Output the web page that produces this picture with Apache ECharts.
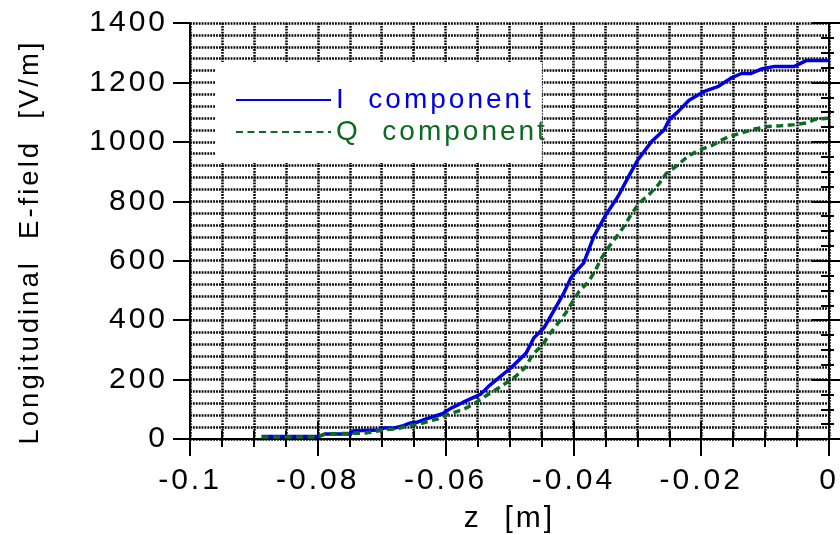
<!DOCTYPE html>
<html>
<head>
<meta charset="utf-8">
<script src="https://cdn.jsdelivr.net/npm/echarts@6/dist/echarts.min.js"></script>
<style>
  html, body { margin: 0; padding: 0; background: #fff; }
  #chart { width: 840px; height: 535px; }
</style>
</head>
<body>
<div id="chart"></div>
<script>
// I component
const zI = [-0.0888, -0.0800, -0.0788, -0.0749, -0.0744, -0.0702, -0.0697, -0.0680, -0.0666, -0.0655,
  -0.0645, -0.0634, -0.0621, -0.0605, -0.0592, -0.0573, -0.0545, -0.0533, -0.0514, -0.0498,
  -0.0474, -0.0462, -0.0446, -0.0431, -0.0415, -0.0404, -0.0391, -0.0384, -0.0368, -0.0349,
  -0.0330, -0.0315, -0.0299, -0.0278, -0.0258, -0.0250, -0.0237, -0.0219, -0.0195, -0.0173,
  -0.0153, -0.0137, -0.0122, -0.0106, -0.0085, -0.0054, -0.0035, 0]
const vI = [8, 8, 17, 17, 28, 30, 37, 37, 45, 54,
  56, 65, 74, 85, 103, 123, 151, 177, 211, 239,
  289, 340, 374, 430, 491, 542, 576, 592, 682, 755,
  817, 878, 940, 1000, 1041, 1075, 1100, 1140, 1170, 1187,
  1215, 1230, 1230, 1245, 1254, 1254, 1274, 1274]

// Q component
const zQ = [-0.0888, -0.0800, -0.0788, -0.0725, -0.0697, -0.0675, -0.0660, -0.0645, -0.0628, -0.0613,
  -0.0597, -0.0573, -0.0558, -0.0542, -0.0526, -0.0509, -0.0490, -0.0474, -0.0464, -0.0448,
  -0.0438, -0.0424, -0.0412, -0.0401, -0.0391, -0.0376, -0.0365, -0.0357, -0.0344, -0.0330,
  -0.0318, -0.0310, -0.0297, -0.0282, -0.0267, -0.0255, -0.0239, -0.0221, -0.0205, -0.0184,
  -0.0169, -0.0156, -0.0137, -0.0117, -0.0095, -0.0075, -0.0054, -0.0035, -0.0023, 0]
const vQ = [7, 7, 17, 20, 31, 34, 45, 48, 59, 67,
  82, 99, 115, 138, 160, 183, 211, 244, 284, 317,
  351, 390, 424, 463, 497, 530, 570, 606, 648, 688,
  724, 755, 794, 822, 856, 893, 918, 951, 971, 987,
  1005, 1018, 1030, 1043, 1052, 1054, 1058, 1064, 1075, 1080]

const seriesNames = ['I  component', 'Q  component']
const xRange = [-0.1, 0, 0.02]
const yRange = [0, 1400, 200]

const FONT = '"Liberation Sans", Arial, sans-serif'
const BLUE = '#0000e6'
const GREEN = '#0b6b20'
const dotted = { color: '#000', width: 2.5, type: [1.8, 1.1] }

const dom = document.getElementById('chart')
const chart = echarts.init(dom, null, { renderer: 'canvas' })

// the reference uses wide tracking on all text
function setTracking() {
  let ctx = null
  try {
    const layer = chart.getZr().painter.getLayer(0)
    ctx = layer && layer.ctx
  } catch (e) {}
  if (!ctx) {
    const cv = dom.querySelector('canvas')
    ctx = cv && cv.getContext('2d')
  }
  if (ctx && 'letterSpacing' in ctx) ctx.letterSpacing = '3px'
}
setTracking()

const baseX = {
  type: 'value', min: xRange[0], max: xRange[1], interval: xRange[2],
  gridIndex: 0, position: 'bottom'
}
const baseY = {
  type: 'value', min: yRange[0], max: yRange[1], interval: yRange[2],
  gridIndex: 0
}
const tickLine = { color: '#000', width: 2 }

const option = {
  animation: false,
  backgroundColor: '#fff',
  textStyle: { fontFamily: FONT },
  grid: { left: 190, right: 11, top: 23, bottom: 96, containLabel: false, outerBoundsMode: 'none' },
  legend: {
    left: 215, top: 62,
    orient: 'vertical',
    padding: [24, 30, 17, 20],
    itemGap: 4,
    itemWidth: 95,
    itemHeight: 14,
    backgroundColor: '#fff',
    itemStyle: { opacity: 0 },
    data: [
      { name: seriesNames[0], textStyle: { color: BLUE } },
      { name: seriesNames[1], textStyle: { color: GREEN } }
    ],
    textStyle: { fontSize: 28, fontFamily: FONT }
  },
  xAxis: [
    Object.assign({}, baseX, {
      name: 'z  [m]',
      nameLocation: 'middle',
      nameGap: 65,
      nameTextStyle: { fontSize: 30, color: '#000', fontFamily: FONT },
      axisLine: { show: true, onZero: false, lineStyle: tickLine },
      axisTick: { show: true, inside: false, length: 17, lineStyle: tickLine },
      minorTick: { show: true, splitNumber: 4, length: 8, lineStyle: tickLine },
      axisLabel: { fontSize: 30, color: '#000', margin: 27, fontFamily: FONT },
      splitLine: { show: true, lineStyle: dotted },
      minorSplitLine: { show: true, lineStyle: dotted }
    }),
    Object.assign({}, baseX, {
      axisLine: { show: false },
      axisTick: { show: true, inside: true, length: 17, lineStyle: tickLine },
      minorTick: { show: true, splitNumber: 4, length: 8, lineStyle: tickLine },
      axisLabel: { show: false },
      splitLine: { show: false }
    })
  ],
  yAxis: [
    Object.assign({}, baseY, {
      position: 'left',
      name: 'Longitudinal  E-field  [V/m]',
      nameLocation: 'middle',
      nameGap: 146,
      nameTextStyle: { fontSize: 27.5, color: '#000', fontFamily: FONT, padding: [0, 22, 0, 0] },
      axisLine: { show: true, onZero: false, lineStyle: tickLine },
      axisTick: { show: true, inside: false, length: 17, lineStyle: tickLine },
      minorTick: { show: false },
      axisLabel: { fontSize: 30, color: '#000', margin: 22, fontFamily: FONT, formatter: v => String(v) },
      splitLine: { show: true, lineStyle: dotted },
      minorSplitLine: { show: true, lineStyle: dotted }
    }),
    Object.assign({}, baseY, {
      position: 'left',
      axisLine: { show: false },
      axisTick: { show: true, inside: true, length: 13, lineStyle: tickLine },
      minorTick: { show: true, splitNumber: 4, length: 5, lineStyle: tickLine },
      axisLabel: { show: false },
      splitLine: { show: false }
    }),
    Object.assign({}, baseY, {
      position: 'right',
      axisLine: { show: true, onZero: false, lineStyle: tickLine },
      axisTick: { show: true, inside: true, length: 17, lineStyle: tickLine },
      minorTick: { show: true, splitNumber: 4, length: 8, lineStyle: tickLine },
      axisLabel: { show: false },
      splitLine: { show: false }
    })
  ],
  series: [
    {
      name: seriesNames[0],
      type: 'line',
      xAxisIndex: 0, yAxisIndex: 0,
      data: zI.map((z, i) => [z, vI[i]]),
      symbol: 'none',
      color: BLUE,
      lineStyle: { color: BLUE, width: 3.5, type: 'solid' },
      z: 3
    },
    {
      name: seriesNames[1],
      type: 'line',
      xAxisIndex: 0, yAxisIndex: 0,
      data: zQ.map((z, i) => [z, vQ[i]]),
      symbol: 'none',
      color: GREEN,
      lineStyle: { color: GREEN, width: 3.5, type: [7, 4.5] },
      z: 4
    }
  ]
}

chart.setOption(option)
setTracking()
// repaint so the tracking is applied
chart.setOption(option, true)
window.addEventListener('resize', () => chart.resize())
</script>
</body>
</html>
